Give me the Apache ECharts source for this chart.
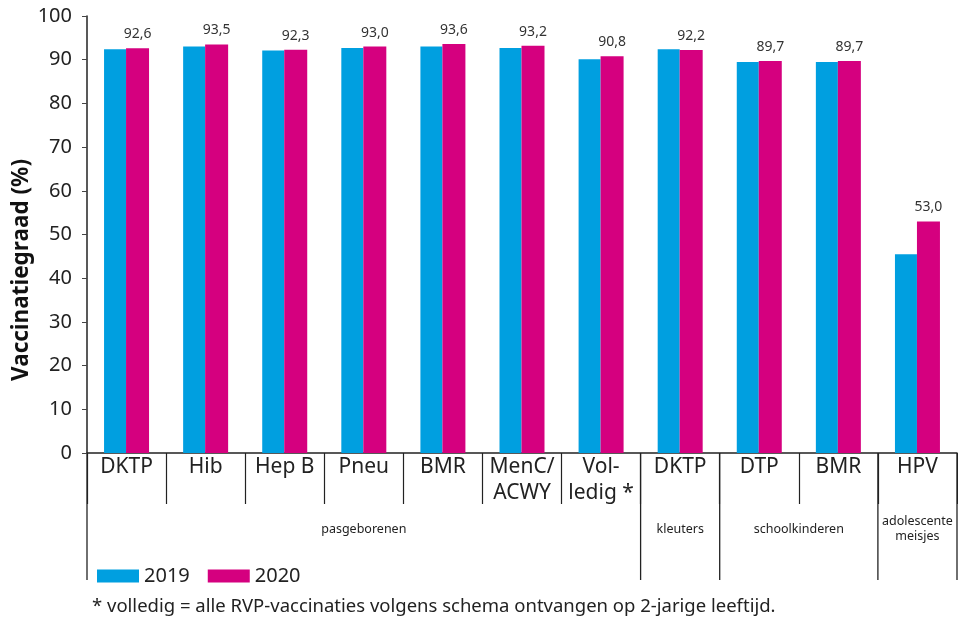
<!DOCTYPE html>
<html>
<head>
<meta charset="utf-8">
<script src="https://cdn.jsdelivr.net/npm/echarts@6/dist/echarts.min.js"></script>
<style>
  html, body { margin: 0; padding: 0; background: #fff; }
  #chart { width: 958px; height: 619px; }
</style>
</head>
<body>
<div id="chart"></div>
<script>
const categories = ["DKTP", "Hib", "Hep B", "Pneu", "BMR", "MenC/\nACWY", "Vol-\nledig *", "DKTP", "DTP", "BMR", "HPV"];
const values2019 = [92.4, 93.0, 92.1, 92.7, 93.0, 92.7, 90.1, 92.4, 89.5, 89.5, 45.5];
const values2020 = [92.6, 93.5, 92.3, 93.0, 93.6, 93.2, 90.8, 92.2, 89.7, 89.7, 53.0];
const yTicks = [0, 10, 20, 30, 40, 50, 60, 70, 80, 90, 100];
// doelgroepen: naam, eerste en laatste categorie-index
const groupNames = ["pasgeborenen", "kleuters", "schoolkinderen", "adolescente\nmeisjes"];
const groupStart = [0, 7, 8, 10];
const groupEnd = [6, 7, 9, 10];

const BLUE = "#009fe0";
const MAGENTA = "#d5007f";
const FONT = "Noto Sans";
const INK = "#222";

const chart = echarts.init(document.getElementById("chart"));

chart.setOption({
  animation: false,
  textStyle: { fontFamily: FONT },
  grid: { left: 87, right: 1, top: 16, bottom: 166 },
  legend: {
    left: 92,
    top: 561,
    itemWidth: 42,
    itemHeight: 13,
    itemGap: 18,
    icon: "rect",
    textStyle: { fontSize: 20, color: INK, fontFamily: FONT },
    data: ["2019", "2020"],
  },
  xAxis: {
    type: "category",
    data: categories,
    axisLine: { lineStyle: { color: INK, width: 1.5 } },
    axisTick: { show: true, interval: 0, length: 51, lineStyle: { color: INK, width: 1.2 } },
    axisLabel: {
      interval: 0,
      margin: 1,
      fontSize: 21,
      lineHeight: 26,
      color: INK,
      verticalAlign: "top",
      fontFamily: FONT,
    },
  },
  yAxis: {
    type: "value",
    min: yTicks[0],
    max: yTicks[yTicks.length - 1],
    interval: 10,
    splitLine: { show: false },
    axisLine: { show: true, lineStyle: { color: INK, width: 1.5 } },
    axisTick: { show: true, length: 5, lineStyle: { color: "#444" } },
    axisLabel: { fontSize: 20, color: INK, margin: 15, fontFamily: FONT },
  },
  series: [
    {
      name: "2019",
      type: "bar",
      data: values2019,
      barWidth: 22,
      barGap: "0%",
      itemStyle: { color: BLUE },
    },
    {
      name: "2020",
      type: "bar",
      data: values2020,
      barWidth: 23,
      itemStyle: { color: MAGENTA },
      label: {
        show: true,
        position: "top",
        distance: 7,
        fontSize: 14,
        color: "#333",
        fontFamily: FONT,
        formatter: (p) => p.value.toFixed(1).replace(".", ","),
      },
    },
  ],
});

// groepsscheiding en groepslabels onder de as
const c0 = chart.convertToPixel({ xAxisIndex: 0 }, 0);
const c1 = chart.convertToPixel({ xAxisIndex: 0 }, 1);
const half = (c1 - c0) / 2;
const axisY = chart.convertToPixel({ yAxisIndex: 0 }, 0);
const lineBottom = 580;

const graphic = [];
const bounds = new Set();
groupNames.forEach((name, i) => {
  const left = chart.convertToPixel({ xAxisIndex: 0 }, groupStart[i]) - half;
  const right = chart.convertToPixel({ xAxisIndex: 0 }, groupEnd[i]) + half;
  bounds.add(Math.round(left * 10) / 10);
  bounds.add(Math.round(right * 10) / 10);
  graphic.push({
    type: "text",
    x: (left + right) / 2,
    y: 529,
    style: {
      text: name,
      fontSize: 12.5,
      lineHeight: 15,
      fill: INK,
      fontFamily: FONT,
      align: "center",
      verticalAlign: "middle",
    },
  });
});
bounds.forEach((x) => {
  graphic.push({
    type: "line",
    shape: { x1: x, y1: axisY, x2: x, y2: lineBottom },
    style: { stroke: INK, lineWidth: 1.3 },
  });
});

graphic.push({
  type: "text",
  x: 22,
  y: 270,
  rotation: Math.PI / 2,
  style: {
    text: "Vaccinatiegraad (%)",
    fontSize: 22.5,
    fontWeight: "bold",
    fill: "#111",
    fontFamily: FONT,
    align: "center",
    verticalAlign: "middle",
  },
});

graphic.push({
  type: "text",
  x: 92,
  y: 607,
  style: {
    text: "* volledig = alle RVP-vaccinaties volgens schema ontvangen op 2-jarige leeftijd.",
    fontSize: 18.5,
    fill: INK,
    fontFamily: FONT,
    align: "left",
    verticalAlign: "middle",
  },
});

chart.setOption({ graphic: graphic });
</script>
</body>
</html>
